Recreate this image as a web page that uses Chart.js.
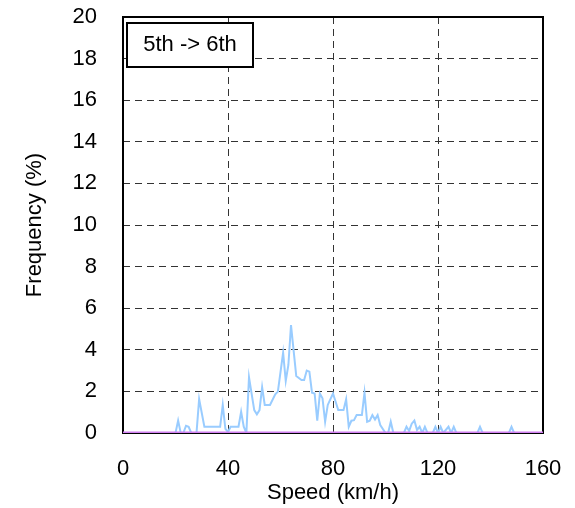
<!DOCTYPE html>
<html>
<head>
<meta charset="utf-8">
<script src="https://cdn.jsdelivr.net/npm/chart.js@4"></script>
<style>
  html, body { margin: 0; padding: 0; background: #fff; }
  #wrap { width: 575px; height: 508px; }
</style>
</head>
<body>
<div id="wrap"><canvas id="freqChart"></canvas></div>
<script>
// speed (km/h) and frequency (%)
const speeds = [0, 20, 21, 22, 23, 24, 25, 26, 28, 29, 31, 37, 38, 39, 40, 41, 44, 45, 46, 47,
  48, 50, 51, 52, 53, 54, 56, 58, 59, 61, 62, 63, 64, 66, 68, 69, 70, 71, 72, 73,
  74, 75, 76, 77, 78, 80, 82, 84, 85, 86, 87, 88, 89, 91, 92, 93, 94, 95, 96, 97,
  98, 100, 101, 102, 103, 107, 108, 109, 110, 111, 112, 113, 114, 115, 116, 118, 119, 120, 121, 122,
  124, 125, 126, 127, 135, 136, 137, 147, 148, 149, 160];
const freqBlue = [0, 0, 0.6, 0, 0, 0.35, 0.3, 0, 0, 1.63, 0.3, 0.3, 1.35, 0.2, 0.05, 0.3, 0.3, 1.02, 0.3, 0,
  2.68, 1.1, 0.9, 1.1, 2.2, 1.35, 1.35, 1.86, 1.99, 3.86, 2.5, 3.27, 5.19, 2.74, 2.55, 2.55, 3.0, 2.95, 1.94, 1.9,
  0.59, 1.9, 1.67, 0.54, 1.35, 1.9, 1.1, 1.1, 1.62, 0.3, 0.59, 0.62, 0.86, 0.86, 1.94, 0.54, 0.59, 0.86, 0.65, 0.86,
  0.38, 0, 0, 0.54, 0, 0, 0.3, 0.1, 0.45, 0.6, 0.15, 0.3, 0, 0.3, 0, 0, 0.3, 0, 0.3, 0,
  0.3, 0, 0.3, 0, 0, 0.3, 0, 0, 0.3, 0, 0];
const speedsPurple = [0, 160];
const freqPurple = [0, 0];

const xTicks = [0, 40, 80, 120, 160];
const yTicks = [0, 2, 4, 6, 8, 10, 12, 14, 16, 18, 20];
const legendText = "5th -> 6th";

const FONT = "'Liberation Sans', Arial, sans-serif";

const frame = {
  id: "frame",
  beforeDatasetsDraw(chart) {
    const { ctx, chartArea: a } = chart;
    ctx.save();
    ctx.strokeStyle = "#000";
    ctx.lineWidth = 2;
    ctx.strokeRect(a.left, a.top, a.right - a.left, a.bottom - a.top);
    ctx.restore();
  },
  afterDraw(chart) {
    const { ctx, chartArea: a } = chart;
    ctx.save();
    const x = a.left + 4, y = a.top + 6, w = 126, h = 44;
    ctx.fillStyle = "#fff";
    ctx.fillRect(x, y, w, h);
    ctx.strokeStyle = "#000";
    ctx.lineWidth = 2;
    ctx.strokeRect(x, y, w, h);
    ctx.fillStyle = "#000";
    ctx.font = "22px " + FONT;
    ctx.textAlign = "center";
    ctx.textBaseline = "middle";
    ctx.fillText(legendText, x + w / 2, y + h / 2);
    ctx.restore();
  }
};

new Chart(document.getElementById("freqChart"), {
  type: "line",
  data: {
    datasets: [
      {
        label: "blue",
        data: speeds.map((s, i) => ({ x: s, y: freqBlue[i] })),
        borderColor: "#99ccff",
        borderWidth: 2,
        pointRadius: 0,
        tension: 0,
        order: 2
      },
      {
        label: "purple",
        data: speedsPurple.map((s, i) => ({ x: s, y: freqPurple[i] })),
        borderColor: "rgb(208,128,240)",
        borderWidth: 3,
        pointRadius: 0,
        tension: 0,
        order: 1
      }
    ]
  },
  options: {
    responsive: true,
    maintainAspectRatio: false,
    animation: false,
    layout: { padding: { top: 17, right: 32, left: 0, bottom: 0 } },
    plugins: { legend: { display: false }, tooltip: { enabled: false } },
    scales: {
      x: {
        type: "linear",
        min: 0,
        max: 160,
        afterBuildTicks: (s) => { s.ticks = xTicks.map((v) => ({ value: v })); },
        afterFit: (s) => { s.height = 75; s.paddingLeft = 0; s.paddingRight = 0; },
        ticks: { color: "#000", font: { size: 22, family: FONT }, padding: 23, maxRotation: 0 },
        grid: { drawTicks: false, color: "#333" },
        border: { display: false, dash: [7, 5] },
        title: { display: true, text: "Speed (km/h)", color: "#000", font: { size: 22, family: FONT }, padding: { top: 0, bottom: 2 } }
      },
      y: {
        min: 0,
        max: 20,
        afterBuildTicks: (s) => { s.ticks = yTicks.map((v) => ({ value: v })); },
        afterFit: (s) => { s.width = 123; s.paddingTop = 0; s.paddingBottom = 0; },
        ticks: { color: "#000", font: { size: 22, family: FONT }, padding: 26 },
        grid: { drawTicks: false, color: "#333" },
        border: { display: false, dash: [7, 5] },
        title: { display: true, text: "Frequency (%)", color: "#000", font: { size: 22, family: FONT }, padding: { top: 22, bottom: 0 } }
      }
    }
  },
  plugins: [frame]
});
</script>
</body>
</html>
